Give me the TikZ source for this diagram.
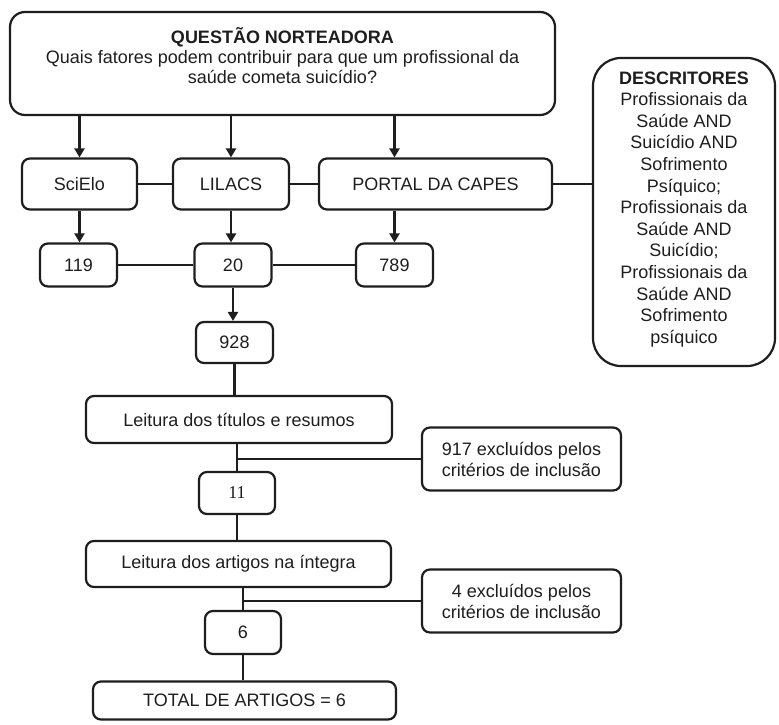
\documentclass[tikz,border=0pt]{standalone}
\usepackage{fontspec}
\setmainfont{Liberation Sans}
\newfontfamily\serifnum{Liberation Serif}
\usetikzlibrary{arrows.meta,positioning}
\definecolor{FXInk}{HTML}{1E1E1E}
\tikzset{
  flow/.style={-{Triangle[length=9pt,width=10pt]},FXInk,line width=2.2pt},
  link/.style={FXInk,line width=2.2pt},
  caixa/.style={draw=FXInk,line width=2.2pt,rounded corners=8pt,text=FXInk,
                align=center,inner sep=0pt,font=\fontsize{18}{21}\selectfont},
  caixanum/.style={caixa,minimum width=77pt,minimum height=43pt},
  caixalarga/.style={caixa,minimum width=305pt,minimum height=46pt},
  caixaexcl/.style={caixa,minimum width=199pt,minimum height=63pt},
}

\begin{document}
\begin{tikzpicture}[x=1pt,y=-1pt]
    \fill[white] (0,0) rectangle (779,725);
    \useasboundingbox (0,0) rectangle (779,725);

    % pergunta, bases de dados e descritores
    \node[caixa,rounded corners=15pt,minimum width=545pt,minimum height=103pt,text depth=16pt,
          font=\fontsize{18}{20}\selectfont] (questao) at (282.5,63.5)
      {\textbf{QUESTÃO NORTEADORA}\\Quais fatores podem contribuir para que um profissional da\\saúde cometa suicídio?};
    \node[caixa,minimum width=115pt,minimum height=51pt] (scielo) at (79.5,184) {SciElo};
    \node[caixa,minimum width=116pt,minimum height=51pt] (lilacs) at (231,184) {LILACS};
    \node[caixa,minimum width=233pt,minimum height=51pt] (portal) at (435.5,184) {PORTAL DA CAPES};
    \node[caixa,rounded corners=28pt,minimum width=182pt,minimum height=308pt,text depth=9pt,
          font=\fontsize{18}{21.6}\selectfont] (descritores) at (684,212)
      {\textbf{DESCRITORES}\\Profissionais da\\Saúde AND\\Suicídio AND\\Sofrimento\\Psíquico;\\
       Profissionais da\\Saúde AND\\Suicídio;\\Profissionais da\\Saúde AND\\Sofrimento\\psíquico};

    % resultados por base
    \node[caixanum] (n119) at (78.5,265) {119};
    \node[caixanum] (n20) at (233,265) {20};
    \node[caixanum] (n789) at (394.5,265) {789};

    \draw[flow] (questao.south -| scielo) -- (scielo.north);
    \draw[flow] (questao.south -| lilacs) -- (lilacs.north);
    \draw[flow] (questao.south -| n789) -- (portal.north -| n789);
    \draw[link] (scielo.east) -- (lilacs.west);
    \draw[link] (lilacs.east) -- (portal.west);
    \draw[link] (portal.east) -- (portal.east -| descritores.west);

    \draw[flow] (scielo.south) -- (scielo.south |- n119.north);
    \draw[flow] (lilacs.south) -- (lilacs.south |- n20.north);
    \draw[flow] (portal.south -| n789) -- (n789.north);
    \draw[link] (n119.east) -- (n20.west);
    \draw[link] (n20.east) -- (n789.west);

    % triagem
    \node[caixanum,minimum height=41pt] (n928) at (234.5,342.5) {928};
    \node[caixalarga,minimum width=306pt,minimum height=47pt] (leitura1) at (239,419.5) {Leitura dos títulos e resumos};
    \node[caixaexcl] (excl1) at (521.5,459) {917 excluídos pelos\\critérios de inclusão};
    \node[caixanum,minimum width=76pt,minimum height=42pt,font=\serifnum\fontsize{18}{21}\selectfont] (n11) at (237,493) {11};
    \node[caixalarga] (leitura2) at (238.5,564) {Leitura dos artigos na íntegra};
    \node[caixaexcl] (excl2) at (521.5,601) {4 excluídos pelos\\critérios de inclusão};
    \node[caixanum,minimum width=76pt] (n6) at (243,632.5) {6};
    \node[caixa,minimum width=303pt,minimum height=38pt] (total) at (244.5,700.5) {TOTAL DE ARTIGOS = 6};

    \draw[flow] (n20.south) -- (n20.south |- n928.north);
    \draw[link] (n928.south) -- (leitura1.north -| n928);
    \draw[link] (leitura1.south -| n11) -- (n11.north);
    \draw[link] (n11.north |- excl1.west) -- (excl1.west);
    \draw[link] (n11.south) -- (leitura2.north -| n11);
    \draw[link] (leitura2.south -| n6) -- (n6.north);
    \draw[link] (n6.north |- excl2.west) -- (excl2.west);
    \draw[link] (n6.south) -- (total.north -| n6);
\end{tikzpicture}
\end{document}
